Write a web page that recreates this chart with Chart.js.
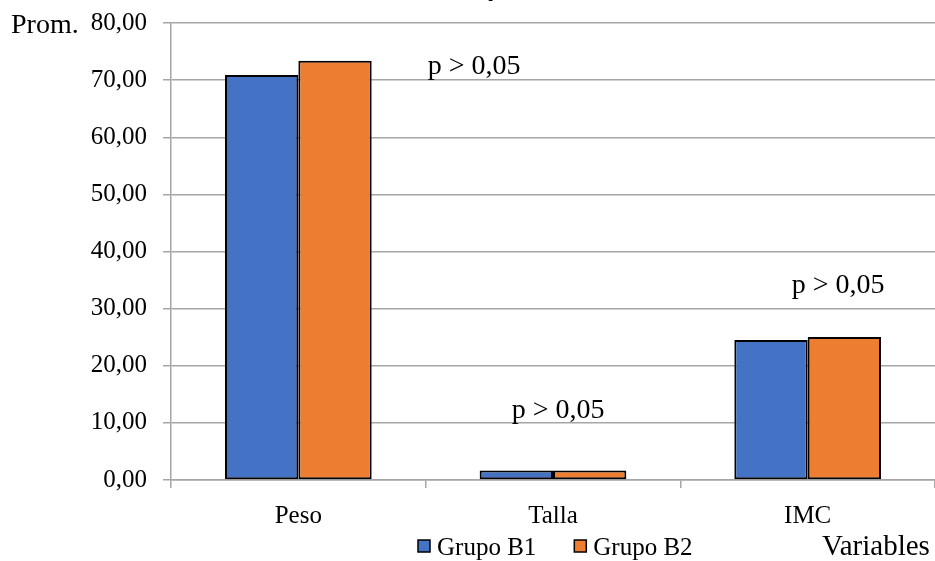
<!DOCTYPE html>
<html>
<head>
<meta charset="utf-8">
<script src="https://cdn.jsdelivr.net/npm/chart.js@4"></script>
<style>
  html, body { margin: 0; padding: 0; background: #fff; }
  #wrap { width: 935px; height: 561px; }
</style>
</head>
<body>
<div id="wrap"><canvas id="chart" width="935" height="561"></canvas></div>
<script>
const categories = ["Peso", "Talla", "IMC"];
const grupoB1 = [70.9, 1.65, 24.5];
const grupoB2 = [73.4, 1.65, 25.05];
const yTicks = [0, 10, 20, 30, 40, 50, 60, 70, 80];
const pLabels = ["p > 0,05", "p > 0,05", "p > 0,05"];

const FONT = "'Liberation Serif', 'Times New Roman', serif";
const gridGray = "#a6a6a6";

// texts outside the axes + the legend row
const extraText = {
    id: "extraText",
    afterDraw(chart) {
        const ctx = chart.ctx;
        const x = chart.scales.x;
        const y = chart.scales.y;
        ctx.save();
        ctx.fillStyle = "#000";
        ctx.textBaseline = "alphabetic";
        ctx.textAlign = "left";
        ctx.font = `28px ${FONT}`;
        ctx.fillText("Prom.", 11, 33);
        // clipped title fragment at top
        ctx.textAlign = "center";
        ctx.fillText("y", 495, -5);

        // p labels, placed relative to each category centre
        const step = x.getPixelForValue(1) - x.getPixelForValue(0);
        const offs = [[0.69, 71], [0.02, 10.8], [0.12, 32.7]];
        pLabels.forEach((t, i) => {
            const px = x.getPixelForValue(i) + offs[i][0] * step;
            ctx.fillText(t, px, y.getPixelForValue(offs[i][1]));
        });

        ctx.textAlign = "left";
        ctx.font = `29px ${FONT}`;
        ctx.fillText("Variables", 822, 555);

        // legend
        ctx.font = `25px ${FONT}`;
        let lx = 418;
        chart.data.datasets.forEach((ds) => {
            ctx.fillStyle = ds.backgroundColor;
            ctx.fillRect(lx, 540, 12, 12);
            ctx.strokeStyle = "#000";
            ctx.lineWidth = 1.5;
            ctx.strokeRect(lx, 540, 12, 12);
            ctx.fillStyle = "#000";
            ctx.fillText(ds.label, lx + 19, 555);
            lx += 19 + ctx.measureText(ds.label).width + 38;
        });
        ctx.restore();
    },
};

new Chart(document.getElementById("chart"), {
    type: "bar",
    data: {
        labels: categories,
        datasets: [
            {
                label: "Grupo B1",
                data: grupoB1,
                backgroundColor: "#4472C4",
                borderColor: "#000",
                borderWidth: 2,
                borderSkipped: false,
            },
            {
                label: "Grupo B2",
                data: grupoB2,
                backgroundColor: "#ED7D31",
                borderColor: "#000",
                borderWidth: 2,
                borderSkipped: false,
            },
        ],
    },
    options: {
        responsive: false,
        animation: false,
        devicePixelRatio: 1,
        layout: { padding: { left: 0, right: 0, top: 23, bottom: 33 } },
        datasets: {
            bar: { categoryPercentage: 0.576, barPercentage: 1 },
        },
        plugins: {
            legend: { display: false },
            tooltip: { enabled: false },
            title: { display: false },
        },
        scales: {
            x: {
                grid: {
                    display: true,
                    drawOnChartArea: false,
                    drawTicks: true,
                    tickLength: 8,
                    color: gridGray,
                    lineWidth: 1.5,
                },
                border: { color: gridGray, width: 1.5 },
                ticks: {
                    font: { family: FONT, size: 25 },
                    color: "#000",
                    padding: 13,
                },
                afterFit(scale) {
                    scale.height = 48;
                    scale.paddingLeft = 0;
                    scale.paddingRight = 0;
                },
            },
            y: {
                min: 0,
                max: 80,
                afterBuildTicks(scale) {
                    scale.ticks = yTicks.map((v) => ({ value: v }));
                },
                ticks: {
                    font: { family: FONT, size: 25 },
                    color: "#000",
                    padding: 16,
                    callback: (v) => v.toFixed(2).replace(".", ","),
                },
                grid: {
                    color: gridGray,
                    lineWidth: 1.5,
                    tickLength: 8,
                },
                border: { color: gridGray, width: 1.5 },
                afterFit(scale) {
                    scale.width = 171;
                    scale.paddingTop = 0;
                    scale.paddingBottom = 0;
                },
            },
        },
    },
    plugins: [extraText],
});
</script>
</body>
</html>
